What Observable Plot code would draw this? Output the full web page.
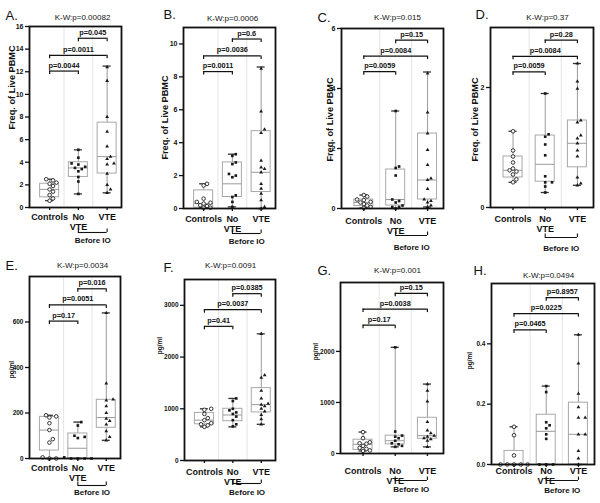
<!DOCTYPE html>
<html><head><meta charset="utf-8">
<script src="https://cdn.jsdelivr.net/npm/d3@7"></script>
<script src="https://cdn.jsdelivr.net/npm/@observablehq/plot@0.6"></script>
<style>
body{margin:0;background:#fff;}
#wrap{position:relative;width:600px;height:503px;overflow:hidden;background:#fff;}
.panel{position:absolute;}
</style>
</head><body><div id="wrap"></div>
<script>
const groups = ["Controls", "No\nVTE", "VTE"];
const pairs = [[1, 2], [1, 3], [2, 3]];
const letters = ["A.", "B.", "C.", "D.", "E.", "F.", "G.", "H."];
const kwTitles = ["K-W:p=0.00082", "K-W:p=0.0006", "K-W:p=0.015", "K-W:p=0.37", "K-W:p=0.0034", "K-W:p=0.0091", "K-W:p=0.001", "K-W:p=0.0494"];
const yTitles = ["Freq. of Live PBMC", "Freq. of Live PBMC", "Freq. of Live PBMC", "Freq. of Live PBMC", "pg/ml", "pg/ml", "pg/ml", "pg/ml"];

// Panel A
const A_controls = [2.5, 2.4, 2.2, 2.1, 1.9, 1.6, 1.4, 1.1, 0.8, 0.6];
const A_noVTE = [5.1, 4.4, 3.9, 3.8, 3.6, 3.5, 3.4, 3.2, 2.7, 2.3, 1.2];
const A_VTE = [12.4, 11.2, 8.0, 6.7, 5.4, 4.5, 4.3, 3.9, 3.8, 3.0, 2.0, 1.6, 1.3];
const A_box = [[0.6, 0.9, 1.6, 2.1, 2.5], [1.2, 2.7, 3.5, 4.0, 5.1], [1.3, 3.0, 4.5, 7.5, 12.5]];
const A_p = ["p=0.0044", "p=0.0011", "p=0.045"];
const A_pAt = [12.06, 13.45, 14.96];
const A_ticks = [0, 2, 4, 6, 8, 10, 12, 14, 16];
const A_ymax = 16;

// Panel B
const B_controls = [1.5, 1.4, 0.6, 0.4, 0.35, 0.3, 0.2, 0.15, 0.05, 0.05];
const B_noVTE = [3.3, 3.2, 2.8, 2.7, 2.1, 2.0, 1.9, 0.8, 0.7, 0.4, 0.1];
const B_VTE = [8.5, 5.9, 4.8, 4.6, 2.9, 2.5, 2.4, 2.2, 1.5, 1.2, 0.9, 0.5, 0.1, 0.0];
const B_box = [[0.05, 0.05, 0.3, 1.1, 1.5], [0.1, 0.7, 1.5, 2.8, 3.3], [0, 1.0, 2.2, 4.7, 8.6]];
const B_p = ["p=0.0011", "p=0.0036", "p=0.6"];
const B_pAt = [8.32, 9.27, 10.3];
const B_ticks = [0, 2, 4, 6, 8, 10];
const B_ymax = 11;

// Panel C
const C_controls = [0.45, 0.4, 0.3, 0.28, 0.22, 0.2, 0.15, 0.1, 0.05, 0.02];
const C_noVTE = [3.25, 1.4, 1.35, 1.1, 0.3, 0.25, 0.2, 0.1, 0.05, 0.05, 0.0];
const C_VTE = [4.5, 3.2, 2.5, 1.95, 1.45, 1.0, 0.95, 0.65, 0.3, 0.25, 0.2, 0.1, 0.05];
const C_box = [[0.02, 0.08, 0.2, 0.3, 0.45], [0, 0.1, 0.3, 1.3, 3.25], [0.05, 0.3, 0.95, 2.5, 4.55]];
const C_p = ["p=0.0059", "p=0.0084", "p=0.15"];
const C_pAt = [4.56, 5.08, 5.61];
const C_ticks = [0, 2, 4, 6];
const C_ymax = 6;

// Panel D
const D_controls = [1.27, 0.95, 0.85, 0.75, 0.65, 0.62, 0.6, 0.55, 0.47, 0.42];
const D_noVTE = [1.9, 1.22, 1.18, 1.05, 0.87, 0.52, 0.42, 0.42, 0.35, 0.25];
const D_VTE = [2.4, 2.1, 1.98, 1.45, 1.42, 1.2, 1.15, 1.07, 0.95, 0.85, 0.5, 0.4, 0.37];
const D_box = [[0.42, 0.5, 0.62, 0.85, 1.27], [0.25, 0.43, 0.72, 1.2, 1.9], [0.37, 0.67, 1.07, 1.45, 2.4]];
const D_p = ["p=0.0059", "p=0.0084", "p=0.28"];
const D_pAt = [2.26, 2.52, 2.79];
const D_ticks = [0, 2];
const D_ymax = 3;

// Panel E
const E_controls = [190, 185, 180, 155, 125, 85, 70, 5, 0, 0];
const E_noVTE = [160, 145, 100, 95, 90, 5, 0, 0, 0, 0];
const E_VTE = [640, 330, 260, 255, 230, 200, 175, 165, 150, 120, 95, 80];
const E_box = [[0, 35, 125, 183, 190], [0, 0, 45, 110, 160], [80, 135, 180, 258, 640]];
const E_p = ["p=0.17", "p=0.0051", "p=0.016"];
const E_pAt = [604, 675, 746];
const E_ticks = [0, 200, 400, 600];
const E_ymax = 800;

// Panel F
const F_controls = [1000, 980, 900, 820, 780, 720, 700, 680, 650];
const F_noVTE = [1200, 1150, 1000, 970, 930, 900, 850, 780, 700, 660];
const F_VTE = [2450, 1650, 1600, 1350, 1200, 1100, 1080, 1050, 1000, 950, 880, 800, 700];
const F_box = [[650, 700, 780, 920, 1000], [650, 760, 880, 1000, 1200], [700, 930, 1080, 1400, 2450]];
const F_p = ["p=0.41", "p=0.0037", "p=0.0385"];
const F_pAt = [2594, 2916, 3226];
const F_ticks = [0, 1000, 2000, 3000];
const F_ymax = 3500;

// Panel G
const G_controls = [420, 300, 220, 200, 190, 150, 110, 90, 60, 50];
const G_noVTE = [2080, 430, 350, 330, 300, 250, 200, 180, 150, 130];
const G_VTE = [1360, 1230, 1020, 620, 450, 400, 350, 330, 300, 280, 250, 130];
const G_box = [[50, 70, 180, 270, 420], [130, 180, 250, 350, 2080], [130, 290, 350, 700, 1360]];
const G_p = ["p=0.17", "p=0.0038", "p=0.15"];
const G_pAt = [2513, 2829, 3138];
const G_ticks = [0, 1000, 2000];
const G_ymax = 3350;

// Panel H
const H_controls = [0.125, 0.097, 0.03, 0, 0, 0, 0, 0];
const H_noVTE = [0.26, 0.24, 0.14, 0.13, 0.12, 0.1, 0.085, 0, 0, 0];
const H_VTE = [0.43, 0.335, 0.235, 0.19, 0.155, 0.155, 0.1, 0.1, 0.045, 0.02, 0];
const H_box = [[0, 0, 0, 0.045, 0.125], [0, 0, 0.11, 0.165, 0.26], [0, 0, 0.1, 0.205, 0.43]];
const H_p = ["p=0.0465", "p=0.0225", "p=0.8957"];
const H_pAt = [0.446, 0.5, 0.553];
const H_ticks = [0, 0.2, 0.4];
const H_ymax = 0.6;

const panels = [
  {s: [A_controls, A_noVTE, A_VTE], box: A_box, p: A_p, pAt: A_pAt, ticks: A_ticks, ymax: A_ymax, fmt: "d"},
  {s: [B_controls, B_noVTE, B_VTE], box: B_box, p: B_p, pAt: B_pAt, ticks: B_ticks, ymax: B_ymax, fmt: "d"},
  {s: [C_controls, C_noVTE, C_VTE], box: C_box, p: C_p, pAt: C_pAt, ticks: C_ticks, ymax: C_ymax, fmt: "d"},
  {s: [D_controls, D_noVTE, D_VTE], box: D_box, p: D_p, pAt: D_pAt, ticks: D_ticks, ymax: D_ymax, fmt: "d"},
  {s: [E_controls, E_noVTE, E_VTE], box: E_box, p: E_p, pAt: E_pAt, ticks: E_ticks, ymax: E_ymax, fmt: "d"},
  {s: [F_controls, F_noVTE, F_VTE], box: F_box, p: F_p, pAt: F_pAt, ticks: F_ticks, ymax: F_ymax, fmt: "d"},
  {s: [G_controls, G_noVTE, G_VTE], box: G_box, p: G_p, pAt: G_pAt, ticks: G_ticks, ymax: G_ymax, fmt: "d"},
  {s: [H_controls, H_noVTE, H_VTE], box: H_box, p: H_p, pAt: H_pAt, ticks: H_ticks, ymax: H_ymax, fmt: ".1f"}
];

// layout (pixels, relative to each panel's own svg)
const layout = [
  {left: 0,   top: 0,   h: 250, ml: 29, mr: 29, mt: 26, mb: 43, letter: [5, 15],  kw: [82, 17], yt: [12, 87],  ytSize: 9.2, tick: 7,   xpad: 3,  bdy: 25, tdy: 33},
  {left: 150, top: 0,   h: 250, ml: 33, mr: 25, mt: 27, mb: 42, letter: [13, 14], kw: [82, 18], yt: [15, 117], ytSize: 9.2, tick: 7,   xpad: 4,  bdy: 25, tdy: 33},
  {left: 300, top: 0,   h: 250, ml: 41, mr: 7,  mt: 28, mb: 42, letter: [17, 17], kw: [97, 17], yt: [30, 119], ytSize: 9.2, tick: 7,   xpad: 6,  bdy: 27, tdy: 39},
  {left: 450, top: 0,   h: 250, ml: 40, mr: 7,  mt: 27, mb: 43, letter: [25, 14], kw: [97, 17], yt: [25, 119], ytSize: 9.2, tick: 7,   xpad: 5,  bdy: 30, tdy: 41},
  {left: 0,   top: 250, h: 253, ml: 29, mr: 30, mt: 26, mb: 45, letter: [5, 15],  kw: [82, 15], yt: [11, 119], ytSize: 6.5, tick: 6.5, xpad: 3,  bdy: 27, tdy: 34},
  {left: 150, top: 250, h: 253, ml: 34, mr: 25, mt: 29, mb: 43, letter: [13, 17], kw: [80, 15], yt: [9, 95],   ytSize: 6.5, tick: 6.5, xpad: 5,  bdy: 23, tdy: 32},
  {left: 300, top: 250, h: 253, ml: 40, mr: 7,  mt: 32, mb: 50, letter: [17, 20], kw: [97, 20], yt: [15, 101], ytSize: 6.5, tick: 6.5, xpad: 11, bdy: 27, tdy: 36},
  {left: 450, top: 250, h: 253, ml: 41, mr: 6,  mt: 33, mb: 39, letter: [23, 20], kw: [98, 25], yt: [19, 110], ytSize: 6.5, tick: 6.5, xpad: 0,  bdy: 16, tdy: 26}
];

const FONT = "'Liberation Sans', Arial, sans-serif";
const wrap = document.getElementById("wrap");

panels.forEach((d, i) => {
  const L = layout[i];
  const W = 150, H = L.h;
  const innerW = W - L.ml - L.mr, innerH = H - L.mt - L.mb;
  const kx = innerW / 3.2, ky = innerH / d.ymax;

  // simple deterministic beeswarm (pixel offsets converted to x units)
  const dots = [];
  d.s.forEach((vals, g) => {
    const placed = [];
    [...vals].sort((a, b) => a - b).forEach(v => {
      const py = v * ky;
      for (let k = 0; k < 20; k++) {
        const off = k === 0 ? 0 : (k % 2 ? 1 : -1) * Math.ceil(k / 2) * 3.4;
        if (placed.every(p => (p.px - off) ** 2 + (p.py - py) ** 2 >= 3.7 * 3.7)) {
          placed.push({px: off, py});
          dots.push({g, v, x: g + 1 + off / kx});
          break;
        }
      }
    });
  });

  const boxes = d.box.map((b, g) => ({c: g + 1, min: b[0], q1: b[1], med: b[2], q3: b[3], max: b[4]}));
  const hw = 9.5 / kx, cap = 4 / kx, leg = 3.5 / ky;
  const br = pairs.map((pr, j) => ({a: pr[0], b: pr[1], y: d.pAt[j], t: d.p[j]}));
  const legs = br.flatMap(r => [{x: r.a, y1: r.y, y2: r.y - leg}, {x: r.b, y1: r.y, y2: r.y - leg}]);
  const at = (pt) => ({frameAnchor: "top-left", dx: pt[0] - L.ml, dy: pt[1] - L.mt});

  const plot = Plot.plot({
    width: W, height: H,
    marginLeft: L.ml, marginRight: L.mr, marginTop: L.mt, marginBottom: L.mb,
    style: {fontFamily: FONT, color: "#111", background: "transparent", overflow: "visible"},
    x: {type: "linear", domain: [0.3, 3.5]},
    y: {type: "linear", domain: [0, d.ymax]},
    marks: [
      Plot.ruleX([1.5, 2.5], {stroke: "#e4e4e4", strokeWidth: 1}),
      Plot.ruleX(boxes, {x: "c", y1: "q3", y2: "max", stroke: "#9a9a9a", strokeWidth: 1}),
      Plot.ruleX(boxes, {x: "c", y1: "min", y2: "q1", stroke: "#9a9a9a", strokeWidth: 1}),
      Plot.rect(boxes, {x1: b => b.c - hw, x2: b => b.c + hw, y1: "q1", y2: "q3", fill: "none", stroke: "#a8a8a8", strokeWidth: 1}),
      Plot.ruleY(boxes, {y: "med", x1: b => b.c - hw, x2: b => b.c + hw, stroke: "#9a9a9a", strokeWidth: 1}),
      Plot.ruleY(boxes, {y: "max", x1: b => b.c - cap, x2: b => b.c + cap, stroke: "#333", strokeWidth: 1.3}),
      Plot.ruleY(boxes, {y: "min", x1: b => b.c - cap, x2: b => b.c + cap, stroke: "#333", strokeWidth: 1.3}),
      Plot.dot(dots.filter(o => o.g === 0), {x: "x", y: "v", symbol: "circle", r: 1.8, fill: "white", stroke: "#333", strokeWidth: 1}),
      Plot.dot(dots.filter(o => o.g === 1), {x: "x", y: "v", symbol: "square", r: 1.5, fill: "#1a1a1a", stroke: "none"}),
      Plot.dot(dots.filter(o => o.g === 2), {x: "x", y: "v", symbol: "triangle", r: 1.4, fill: "#1a1a1a", stroke: "none"}),
      Plot.frame({stroke: "#111", strokeWidth: 1.8}),
      Plot.axisY(d.ticks, {tickSize: 4, tickPadding: 2, tickFormat: d3.format(d.fmt), fontSize: L.tick, fontWeight: "bold", label: null, strokeWidth: 1.3}),
      Plot.axisX([1, 2, 3], {tickSize: 3, tickPadding: L.xpad, tickFormat: v => groups[v - 1], fontSize: 9, fontWeight: "bold", label: null, lineHeight: 1.05, strokeWidth: 1.3}),
      // significance brackets
      Plot.ruleY(br, {y: "y", x1: "a", x2: "b", stroke: "#111", strokeWidth: 1.2}),
      Plot.ruleX(legs, {x: "x", y1: "y1", y2: "y2", stroke: "#111", strokeWidth: 1.2}),
      Plot.text(br, {x: r => (r.a + r.b) / 2, y: "y", text: "t", dy: -3.5, lineAnchor: "bottom", fontSize: 7.3, fontWeight: "bold"}),
      // "Before IO" bracket below axis
      Plot.ruleY([0], {x1: () => 2, x2: () => 3, dy: L.bdy, stroke: "#111", strokeWidth: 1.1}),
      Plot.ruleX([2, 3], {y1: () => 0, y2: () => 3.5 / ky, dy: L.bdy, stroke: "#111", strokeWidth: 1.1}),
      Plot.text(["Before IO"], {x: () => 2.5, y: () => 0, dy: L.tdy, text: t => t, fontSize: 8, fontWeight: "bold", lineAnchor: "middle"}),
      // titles
      Plot.text([letters[i]], {...at(L.letter), text: t => t, fontSize: 13, textAnchor: "start", lineAnchor: "middle"}),
      Plot.text([kwTitles[i]], {...at(L.kw), text: t => t, fontSize: 8, textAnchor: "middle", lineAnchor: "middle"}),
      Plot.text([yTitles[i]], {...at(L.yt), text: t => t, fontSize: L.ytSize, fontWeight: "bold", rotate: -90, textAnchor: "middle", lineAnchor: "middle"})
    ]
  });
  const div = document.createElement("div");
  div.className = "panel";
  div.style.left = L.left + "px";
  div.style.top = L.top + "px";
  div.appendChild(plot);
  wrap.appendChild(div);
});
</script>
</body></html>
